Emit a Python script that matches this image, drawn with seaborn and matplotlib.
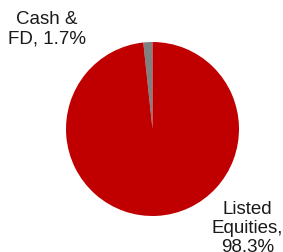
import matplotlib
matplotlib.use("Agg")
import matplotlib.pyplot as plt
import seaborn as sns

# data
labels = ["Cash &\nFD,", "Listed\nEquities,\n"]
shares = [1.7, 98.3]
colors = ["#808080", "#C00000"]

sns.set_theme(style="white")
plt.rcParams['font.family'] = ['Liberation Sans', 'DejaVu Sans']

fig = plt.figure(figsize=(2.83, 2.53), dpi=100)
ax = fig.add_axes([66 / 283, 1 - 217 / 253, 173 / 283, 174 / 253])

ax.pie(shares, colors=colors, startangle=90, counterclock=True,
       wedgeprops=dict(linewidth=0))
ax.set_aspect('auto')
ax.set_xlim(-1, 1)
ax.set_ylim(-1, 1)
ax.axis('off')

# labels outside the pie
label_pos = [(-1.22, 1.16), (1.10, -1.13)]
for lab, val, (x, y) in zip(labels, shares, label_pos):
    sep = "" if lab.endswith("\n") else " "
    ax.text(x, y, f"{lab}{sep}{val}%", ha='center', va='center', fontsize=13.5,
            color='#1a1a1a', linespacing=1.15, clip_on=False)

fig.savefig("out.png", dpi=100)
